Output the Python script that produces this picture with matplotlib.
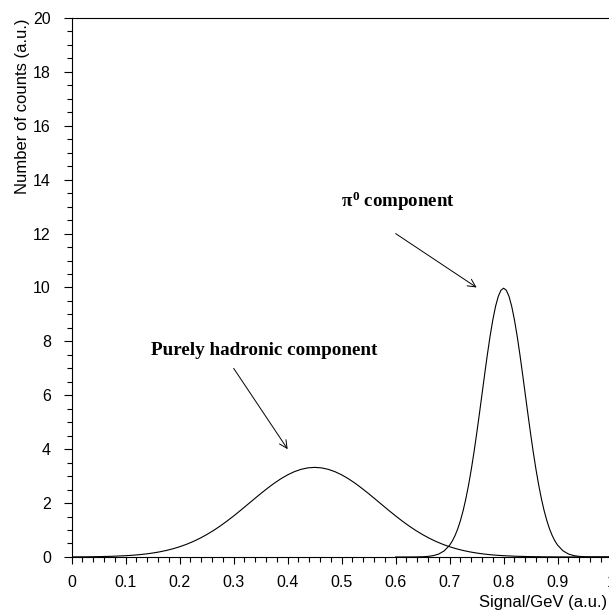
import numpy as np
import matplotlib
matplotlib.use("Agg")
import matplotlib.pyplot as plt
from matplotlib.ticker import MultipleLocator, FixedLocator, FixedFormatter

plt.rcParams['font.family'] = ['Liberation Sans', 'DejaVu Sans']
plt.rcParams['mathtext.fontset'] = 'custom'
plt.rcParams['mathtext.rm'] = 'Liberation Serif:bold'
plt.rcParams['mathtext.it'] = 'Liberation Serif:bold'
plt.rcParams['mathtext.bf'] = 'Liberation Serif:bold'

# purely hadronic component
had_x = [0.000, 0.025, 0.050, 0.075, 0.100, 0.1125, 0.125, 0.1375, 0.150, 0.1625,
         0.175, 0.1875, 0.200, 0.2125, 0.225, 0.2375, 0.250, 0.2625, 0.275, 0.2875,
         0.300, 0.3125, 0.325, 0.3375, 0.350, 0.3625, 0.375, 0.3875, 0.400, 0.4125,
         0.425, 0.4375, 0.450, 0.4625, 0.475, 0.4875, 0.500, 0.5125, 0.525, 0.5375,
         0.550, 0.5625, 0.575, 0.5875, 0.600, 0.6125, 0.625, 0.6375, 0.650, 0.6625,
         0.675, 0.6875, 0.700, 0.7125, 0.725, 0.7375, 0.750, 0.7625, 0.775, 0.7875,
         0.800, 0.825, 0.850, 0.875, 0.900, 0.925, 0.950, 0.975, 1.000]
had_y = [0.0029, 0.0063, 0.0129, 0.0252, 0.0473, 0.0637, 0.0848, 0.1120, 0.1461, 0.1885,
         0.2406, 0.3039, 0.3796, 0.4689, 0.5733, 0.6930, 0.8292, 0.9808, 1.148, 1.329,
         1.522, 1.7245, 1.933, 2.1423, 2.349, 2.5484, 2.735, 2.9028, 3.048, 3.1661,
         3.253, 3.3065, 3.325, 3.3065, 3.253, 3.1661, 3.048, 2.9028, 2.735, 2.5484,
         2.349, 2.1423, 1.933, 1.7245, 1.522, 1.329, 1.148, 0.9808, 0.8292, 0.6930,
         0.5733, 0.4689, 0.3796, 0.3039, 0.2406, 0.1885, 0.1461, 0.1120, 0.0848, 0.0637,
         0.0473, 0.0252, 0.0129, 0.0063, 0.0029, 0.0013, 0.0006, 0.0002, 0.0001]

# pi0 component
pi0_x = [0.600, 0.610, 0.620, 0.630, 0.640, 0.650, 0.660, 0.670, 0.680, 0.690,
         0.700, 0.705, 0.710, 0.715, 0.720, 0.725, 0.730, 0.735, 0.740, 0.745,
         0.750, 0.755, 0.760, 0.765, 0.770, 0.775, 0.780, 0.785, 0.790, 0.795,
         0.800, 0.805, 0.810, 0.815, 0.820, 0.825, 0.830, 0.835, 0.840, 0.845,
         0.850, 0.855, 0.860, 0.865, 0.870, 0.875, 0.880, 0.885, 0.890, 0.895,
         0.900, 0.910, 0.920, 0.930, 0.940, 0.950, 0.960, 0.970, 0.980, 0.990, 1.000]
pi0_y = [0.0000, 0.0001, 0.0004, 0.0012, 0.0033, 0.0088, 0.0218, 0.0507, 0.1108, 0.2273,
         0.4382, 0.5943, 0.7935, 1.0430, 1.350, 1.7197, 2.157, 2.6636, 3.238, 3.8754,
         4.566, 5.2970, 6.049, 6.8014, 7.529, 8.2041, 8.802, 9.2964, 9.667, 9.8960,
         9.974, 9.8960, 9.667, 9.2964, 8.802, 8.2041, 7.529, 6.8014, 6.049, 5.2970,
         4.566, 3.8754, 3.238, 2.6636, 2.157, 1.7197, 1.350, 1.0430, 0.7935, 0.5943,
         0.4382, 0.2273, 0.1108, 0.0507, 0.0218, 0.0088, 0.0033, 0.0012, 0.0004, 0.0001, 0.0000]

x_ticks = [0, 0.1, 0.2, 0.3, 0.4, 0.5, 0.6, 0.7, 0.8, 0.9, 1.0]
x_labels = ['0', '0.1', '0.2', '0.3', '0.4', '0.5', '0.6', '0.7', '0.8', '0.9', '1']
y_ticks = [0, 2, 4, 6, 8, 10, 12, 14, 16, 18, 20]

fig = plt.figure(figsize=(6.09, 6.13), dpi=100)
ax = fig.add_axes([0.1177, 0.0914, 0.8866, 0.8792])

ax.plot(had_x, had_y, color='black', lw=0.8)
ax.plot(pi0_x, pi0_y, color='black', lw=0.8)

ax.set_xlim(0, 1)
ax.set_ylim(0, 20)

ax.xaxis.set_major_locator(FixedLocator(x_ticks))
ax.xaxis.set_major_formatter(FixedFormatter(x_labels))
ax.xaxis.set_minor_locator(MultipleLocator(0.02))
ax.yaxis.set_major_locator(FixedLocator(y_ticks))
ax.yaxis.set_minor_locator(MultipleLocator(0.5))

ax.tick_params(axis='x', which='major', direction='out', length=5.3, width=0.8,
               pad=7.5, labelsize=11.5)
ax.tick_params(axis='x', which='minor', direction='out', length=3.4, width=0.8)
ax.tick_params(axis='y', which='major', direction='out', length=6, width=0.8,
               pad=9, labelsize=11.5)
ax.tick_params(axis='y', which='minor', direction='out', length=3.6, width=0.8)
for s in ax.spines.values():
    s.set_linewidth(0.8)

fig.text(607 / 609, 1 - 603 / 613, 'Signal/GeV (a.u.)', ha='right', va='center',
         fontsize=12)
fig.text(22.5 / 609, 1 - 19 / 613, 'Number of counts (a.u.)', rotation=90,
         ha='center', va='top', fontsize=12)

ax.text(0.498, 13, r'$\pi^{0}$ component', fontsize=13.6, fontweight='bold',
        family='Liberation Serif', ha='left', va='baseline')
ax.text(0.146, 7.5, 'Purely hadronic component', fontsize=13.8, fontweight='bold',
        family='Liberation Serif', ha='left', va='baseline')

arrow = dict(arrowstyle='->', color='black', lw=0.7, shrinkA=0, shrinkB=0,
             mutation_scale=14)
ax.annotate('', xy=(0.75, 10), xytext=(0.6, 12), arrowprops=arrow)
ax.annotate('', xy=(0.4, 4), xytext=(0.3, 7), arrowprops=arrow)

fig.savefig('out.png', dpi=100)
